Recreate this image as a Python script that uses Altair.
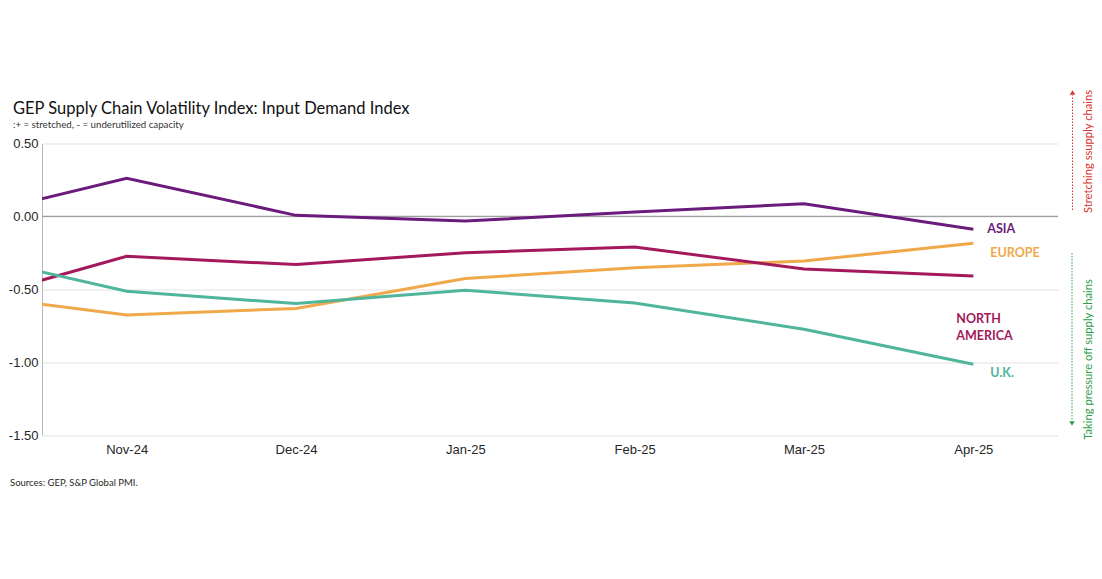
import altair as alt
import pandas as pd

# ---- data ----
months = ["Oct-24", "Nov-24", "Dec-24", "Jan-25", "Feb-25", "Mar-25", "Apr-25"]
asia = [-0.02, 0.262, 0.007, -0.032, 0.03, 0.087, -0.089]
europe = [-0.53, -0.676, -0.632, -0.427, -0.352, -0.306, -0.185]
north_america = [-0.60, -0.274, -0.331, -0.249, -0.21, -0.361, -0.409]
uk = [-0.25, -0.514, -0.598, -0.507, -0.594, -0.774, -1.014]
regions = ["ASIA", "EUROPE", "NORTH AMERICA", "U.K."]
region_colors = ["#6a1b7b", "#f0a84a", "#a3195b", "#4fb59b"]
y_ticks = [0.5, 0.0, -0.5, -1.0, -1.5]

title_text = "GEP Supply Chain Volatility Index: Input Demand Index"
subtitle_text = ":+ = stretched, - = underutilized capacity"
source_text = "Sources: GEP, S&P Global PMI."
up_text = "Stretching ssupply chains"
down_text = "Taking pressure off supply chains"

series = {"ASIA": asia, "EUROPE": europe, "NORTH AMERICA": north_america, "U.K.": uk}
rows = []
for reg, vals in series.items():
    for i, (m, v) in enumerate(zip(months, vals)):
        rows.append({"region": reg, "idx": i, "month": m, "value": v})
df = pd.DataFrame(rows)

W, H = 1016, 291.5
PAD = {"left": 34, "top": 135.5, "right": 36, "bottom": 70}

label_expr = "[" + ",".join("'%s'" % m for m in months) + "][datum.value]"

x_enc = alt.X(
    "idx:Q",
    scale=alt.Scale(domain=[0.5, 6.5], nice=False, zero=False),
    axis=alt.Axis(
        values=list(range(1, len(months))),
        labelExpr=label_expr,
        title=None,
        grid=False,
        domain=False,
        ticks=False,
        labelPadding=8,
        labelFont="Liberation Sans",
        labelFontSize=13,
        labelColor="#262626",
    ),
)
y_enc = alt.Y(
    "value:Q",
    scale=alt.Scale(domain=[-1.5, 0.5], nice=False, zero=False),
    axis=alt.Axis(
        values=y_ticks,
        labelExpr="replace(format(datum.value, '.2f'), '\u2212', '-')",
        title=None,
        grid=True,
        gridColor="#e3e3e3",
        gridWidth=1,
        domain=True,
        domainColor="#b8b8b8",
        domainWidth=1,
        ticks=False,
        labelPadding=4,
        labelFont="Liberation Sans",
        labelFontSize=13,
        labelColor="#262626",
    ),
)

color_enc = alt.Color(
    "region:N",
    scale=alt.Scale(domain=regions, range=region_colors),
    legend=None,
)

lines = alt.Chart(df).mark_line(strokeWidth=3, clip=True).encode(
    x=x_enc, y=y_enc, color=color_enc, detail="region:N", order="idx:Q"
)

zero_df = pd.DataFrame({"value": [0.0]})
zero_rule = alt.Chart(zero_df).mark_rule(color="#a0a0a0", strokeWidth=1.2).encode(
    y=alt.Y("value:Q")
)

# end labels (offsets are styling)
last = df[df["idx"] == len(months) - 1]
label_style = {
    "ASIA": dict(dx=14, dy=0, text="ASIA"),
    "EUROPE": dict(dx=17, dy=10, text="EUROPE"),
    "NORTH AMERICA": dict(dx=-17, dy=43, text=["NORTH", "AMERICA"]),
    "U.K.": dict(dx=17, dy=9, text="U.K."),
}
label_layers = []
for reg, col in zip(regions, region_colors):
    st = label_style[reg]
    label_layers.append(
        alt.Chart(last[last["region"] == reg])
        .mark_text(
            text=st["text"],
            dx=st["dx"],
            dy=st["dy"],
            align="left",
            baseline="middle",
            font="Lato",
            fontWeight="bold",
            fontSize=12.5,
            lineHeight=17,
            color=col,
        )
        .encode(x="idx:Q", y="value:Q")
    )

# right-hand annotations
up_txt = alt.Chart(zero_df).mark_text(
    text=up_text, angle=270, align="center", baseline="middle",
    font="Lato", fontSize=11.2, color="#d8342c",
).encode(x=alt.value(1046.5), y=alt.value(8))
down_txt = alt.Chart(zero_df).mark_text(
    text=down_text, angle=270, align="center", baseline="middle",
    font="Lato", fontSize=11.2, color="#2b9e4b",
).encode(x=alt.value(1046.5), y=alt.value(216))

up_line = alt.Chart(zero_df).mark_rule(
    color="#d8342c", strokeDash=[1.5, 1.5], strokeWidth=1
).encode(x=alt.value(1030.5), y=alt.value(66.5), y2=alt.value(-48))
down_line = alt.Chart(zero_df).mark_rule(
    color="#2b9e4b", strokeDash=[1.5, 1.5], strokeWidth=1
).encode(x=alt.value(1030), y=alt.value(109.5), y2=alt.value(277))
up_arrow = alt.Chart(zero_df).mark_point(
    shape="triangle-up", filled=True, size=30, color="#d8342c", opacity=1
).encode(x=alt.value(1030.5), y=alt.value(-51))
down_arrow = alt.Chart(zero_df).mark_point(
    shape="triangle-down", filled=True, size=30, color="#2b9e4b", opacity=1
).encode(x=alt.value(1030), y=alt.value(280))

source = alt.Chart(zero_df).mark_text(
    text=source_text, align="left", baseline="middle",
    font="Lato", fontSize=9.5, color="#262626",
).encode(x=alt.value(-32), y=alt.value(339.5))

chart = (
    alt.layer(zero_rule, lines, *label_layers, up_txt, down_txt, up_line, down_line,
              up_arrow, down_arrow, source)
    .properties(
        width=W,
        height=H,
        padding=PAD,
        autosize=alt.AutoSizeParams(type="none"),
        title=alt.TitleParams(
            text=title_text,
            subtitle=subtitle_text,
            anchor="start",
            frame="group",
            dx=-29,
            offset=-39.5,
            font="Lato",
            fontSize=16.5,
            fontWeight="normal",
            color="#111111",
            subtitleFont="Lato",
            subtitleFontSize=9.7,
            subtitleColor="#333333",
            subtitlePadding=2,
        ),
    )
    .configure_view(stroke=None)
)

chart.save("out.html", embed_options={"renderer": "svg", "actions": False})
